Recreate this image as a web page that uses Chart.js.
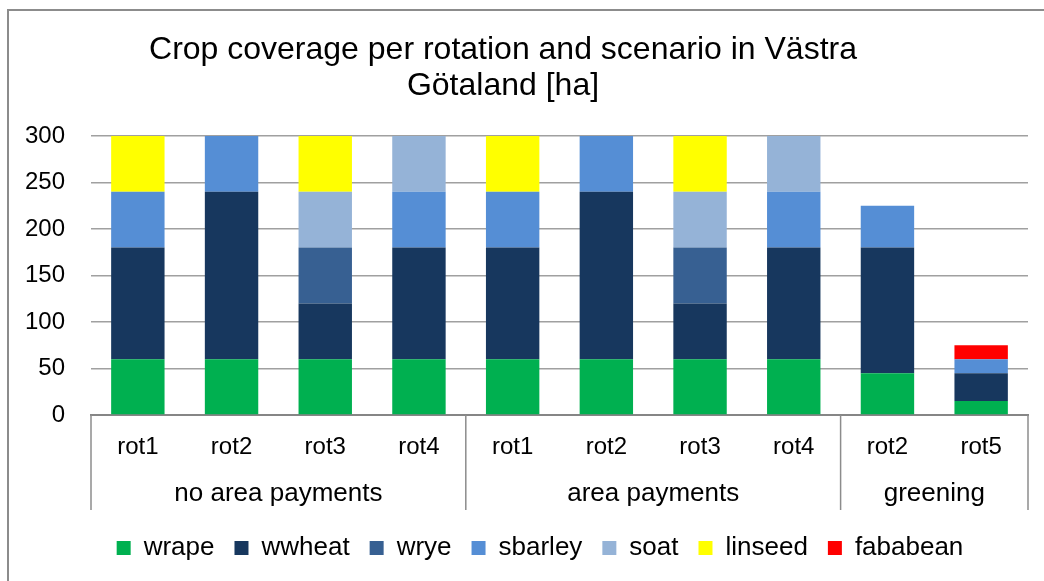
<!DOCTYPE html>
<html>
<head>
<meta charset="utf-8">
<script src="https://cdn.jsdelivr.net/npm/chart.js@4"></script>
<style>
  body { margin: 0; background: #fff; }
  #frame { position: absolute; left: 7px; top: 9px; width: 1100px; height: 700px; border: 2px solid #8c8c8c; }
  #wrap { position: absolute; left: 0; top: 0; width: 1044px; height: 581px; }
</style>
</head>
<body>
<div id="frame"></div>
<div id="wrap"><canvas id="cropChart"></canvas></div>
<script>
const categories = ['rot1', 'rot2', 'rot3', 'rot4', 'rot1', 'rot2', 'rot3', 'rot4', 'rot2', 'rot5'];
const groupNames = ['no area payments', 'area payments', 'greening'];
const groupSizes = [4, 4, 2];

const wrape    = [60, 60, 60, 60, 60, 60, 60, 60, 45, 15];
const wwheat   = [120, 180, 60, 120, 120, 180, 60, 120, 135, 30];
const wrye     = [0, 0, 60, 0, 0, 0, 60, 0, 0, 0];
const sbarley  = [60, 60, 0, 60, 60, 60, 0, 60, 45, 15];
const soat     = [0, 0, 60, 60, 0, 0, 60, 60, 0, 0];
const linseed  = [60, 0, 60, 0, 60, 0, 60, 0, 0, 0];
const fababean = [0, 0, 0, 0, 0, 0, 0, 0, 0, 15];

const titleLines = ['Crop coverage per rotation and scenario in Västra', 'Götaland [ha]'];
const FONT = '"Liberation Sans", Arial, sans-serif';

// title + second level of the category axis (groups with separators)
const extras = {
  id: 'extras',
  afterLayout(chart) {
    // legend in the original sits a bit right of centre
    chart.legend.left += 52;
  },
  afterDraw(chart) {
    const ctx = chart.ctx;
    const x = chart.scales.x;
    const area = chart.chartArea;
    ctx.save();
    ctx.fillStyle = '#000';
    ctx.textAlign = 'center';
    ctx.textBaseline = 'middle';
    ctx.font = '32px ' + FONT;
    ctx.fillText(titleLines[0], 503, 50);
    ctx.fillText(titleLines[1], 503, 86);

    const half = (x.getPixelForValue(1) - x.getPixelForValue(0)) / 2;
    ctx.strokeStyle = '#8c8c8c';
    ctx.lineWidth = 1.5;
    ctx.font = '26px ' + FONT;
    let start = 0;
    const edges = [x.getPixelForValue(0) - half];
    groupSizes.forEach((n, i) => {
      const left = x.getPixelForValue(start) - half;
      const right = x.getPixelForValue(start + n - 1) + half;
      edges.push(right);
      ctx.fillText(groupNames[i], (left + right) / 2, area.bottom + 79);
      start += n;
    });
    edges.forEach(px => {
      ctx.beginPath();
      ctx.moveTo(px, area.bottom);
      ctx.lineTo(px, area.bottom + 95);
      ctx.stroke();
    });
    ctx.restore();
  }
};

const series = [
  ['wrape', wrape, '#00b050'],
  ['wwheat', wwheat, '#17375e'],
  ['wrye', wrye, '#376092'],
  ['sbarley', sbarley, '#558ed5'],
  ['soat', soat, '#95b3d7'],
  ['linseed', linseed, '#ffff00'],
  ['fababean', fababean, '#ff0000']
];

new Chart(document.getElementById('cropChart'), {
  type: 'bar',
  data: {
    labels: categories,
    datasets: series.map(([label, data, color]) => ({
      label, data, backgroundColor: color, borderWidth: 0
    }))
  },
  plugins: [extras],
  options: {
    responsive: true,
    maintainAspectRatio: false,
    animation: false,
    datasets: { bar: { barPercentage: 0.57, categoryPercentage: 1 } },
    layout: { padding: { top: 136, right: 16, bottom: 10, left: 0 } },
    scales: {
      x: {
        stacked: true,
        grid: { display: false, drawTicks: false },
        border: { display: true, color: '#868686', width: 2 },
        ticks: { color: '#000', font: { size: 24, family: FONT }, padding: 18, maxRotation: 0 },
        afterFit(s) { s.height = 100; }
      },
      y: {
        stacked: true,
        min: 0,
        max: 300,
        ticks: { stepSize: 50, color: '#000', font: { size: 24, family: FONT }, padding: 26 },
        grid: { color: '#a0a0a0', lineWidth: 1.5, drawTicks: false },
        border: { display: false },
        afterFit(s) { s.width = 91; }
      }
    },
    plugins: {
      title: { display: false },
      tooltip: { enabled: false },
      legend: {
        position: 'bottom',
        labels: {
          color: '#000',
          font: { size: 26, family: FONT },
          boxWidth: 14,
          boxHeight: 14,
          padding: 20
        }
      }
    }
  }
});
</script>
</body>
</html>
